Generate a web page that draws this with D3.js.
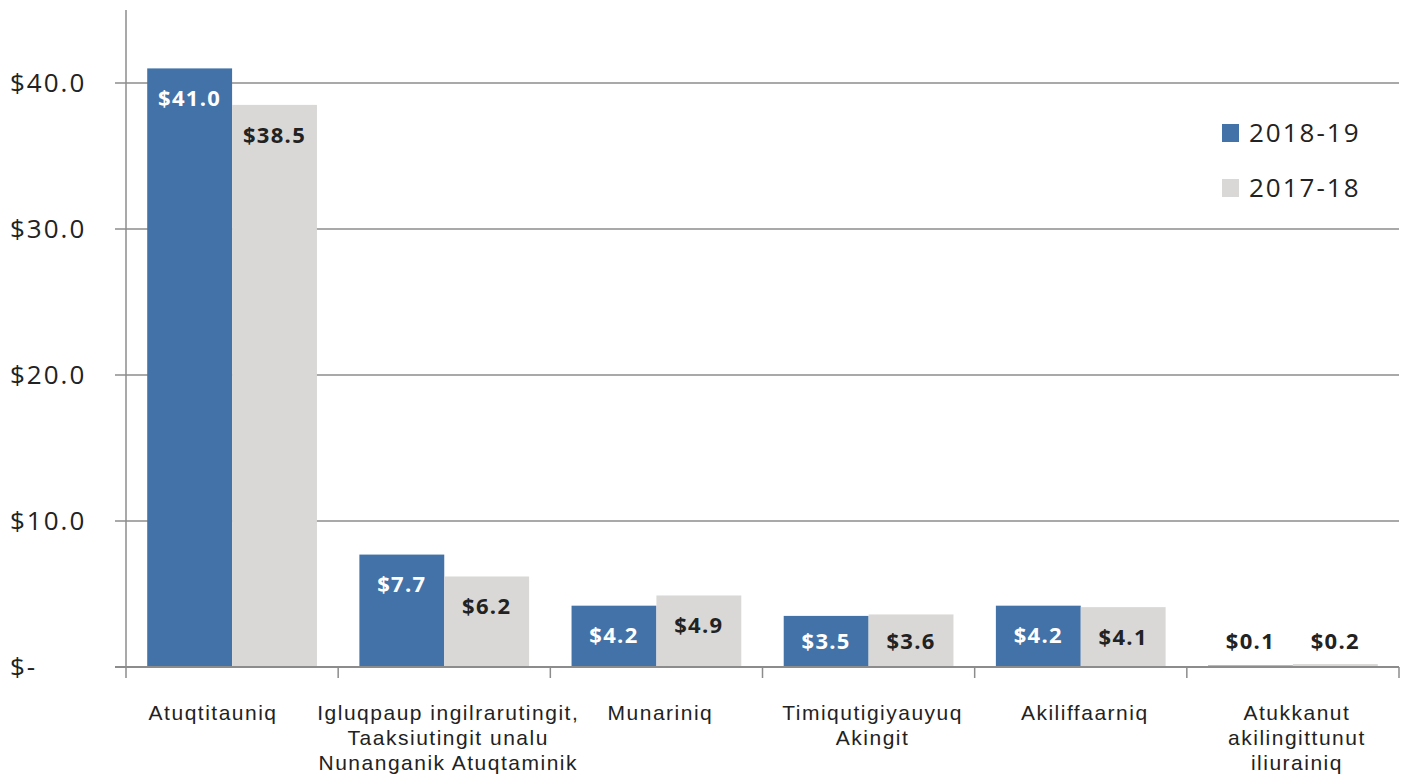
<!DOCTYPE html>
<html>
<head>
<meta charset="utf-8">
<script src="https://cdn.jsdelivr.net/npm/d3@7"></script>
<style>
  body { margin: 0; background: #fff; }
  svg text { font-family: "Open Sans", sans-serif; fill: #222; }
</style>
</head>
<body>
<div id="chart"></div>
<script>
// chart data
var categories = [
	["Atuqtitauniq"],
	["Igluqpaup ingilrarutingit,", "Taaksiutingit unalu", "Nunanganik Atuqtaminik"],
	["Munariniq"],
	["Timiqutigiyauyuq", "Akingit"],
	["Akiliffaarniq"],
	["Atukkanut", "akilingittunut", "iliurainiq"]
];
var series = ["2018-19", "2017-18"];
var values2019 = [41.0, 7.7, 4.2, 3.5, 4.2, 0.1];
var values2018 = [38.5, 6.2, 4.9, 3.6, 4.1, 0.2];
var yTicks = [0, 10, 20, 30, 40];

var colors = {"2018-19": "#4272a7", "2017-18": "#d9d8d6"};

var width = 1406, height = 776;
var margin = {top: 10, right: 7, bottom: 109, left: 126};

var svg = d3.select("#chart")
	.append("svg")
	.attr("width", width)
	.attr("height", height);

var x = d3.scaleBand()
	.domain(d3.range(categories.length))
	.range([margin.left, width - margin.right])
	.paddingInner(0.2)
	.paddingOuter(0.1);

var x1 = d3.scaleBand()
	.domain(series)
	.range([0, x.bandwidth()]);

var y = d3.scaleLinear()
	.domain([0, 45])
	.range([height - margin.bottom, margin.top]);

// gridlines
svg.append("g")
	.selectAll("line")
	.data(yTicks.filter(function(d) { return d > 0; }))
	.enter()
	.append("line")
	.attr("x1", margin.left - 11)
	.attr("x2", width - margin.right)
	.attr("y1", function(d) { return y(d); })
	.attr("y2", function(d) { return y(d); })
	.style("stroke", "#8c8c8c")
	.style("stroke-width", 1.5);

// y tick labels
svg.append("g")
	.selectAll("text")
	.data(yTicks)
	.enter()
	.append("text")
	.attr("x", 10)
	.attr("y", function(d) { return y(d); })
	.attr("dy", "0.35em")
	.style("font-size", "26px")
	.style("letter-spacing", "2px")
	.text(function(d) { return d === 0 ? "$-" : "$" + d.toFixed(1); });

// bars
var rows = categories.map(function(c, i) {
	return {i: i, vals: [
		{s: "2018-19", v: values2019[i]},
		{s: "2017-18", v: values2018[i]}
	]};
});

var groups = svg.append("g")
	.selectAll("g")
	.data(rows)
	.enter()
	.append("g")
	.attr("transform", function(d) { return "translate(" + x(d.i) + ",0)"; });

groups.selectAll("rect")
	.data(function(d) { return d.vals; })
	.enter()
	.append("rect")
	.attr("x", function(d) { return x1(d.s); })
	.attr("width", x1.bandwidth())
	.attr("y", function(d) { return y(d.v); })
	.attr("height", function(d) { return y(0) - y(d.v); })
	.style("fill", function(d) { return colors[d.s]; });

// value labels
groups.selectAll("text")
	.data(function(d) { return d.vals; })
	.enter()
	.append("text")
	.attr("x", function(d) { return x1(d.s) + x1.bandwidth() / 2; })
	.attr("y", function(d) { return Math.min(y(d.v) + 30, y(0) - 26); })
	.attr("dy", "0.35em")
	.attr("text-anchor", "middle")
	.style("font-weight", "bold")
	.style("font-size", "22px")
	.style("letter-spacing", "1.3px")
	.style("fill", function(d) { return d.s === "2018-19" && d.v > 1 ? "#fff" : "#222"; })
	.text(function(d) { return "$" + d.v.toFixed(1); });

// axes lines
svg.append("line")
	.attr("x1", margin.left)
	.attr("x2", margin.left)
	.attr("y1", margin.top)
	.attr("y2", y(0))
	.style("stroke", "#8c8c8c")
	.style("stroke-width", 1.5);

svg.append("line")
	.attr("x1", margin.left - 11)
	.attr("x2", width - margin.right)
	.attr("y1", y(0))
	.attr("y2", y(0))
	.style("stroke", "#8c8c8c")
	.style("stroke-width", 2);

// x tick marks at band edges
var edges = d3.range(categories.length + 1).map(function(i) {
	return margin.left + i * x.step();
});
svg.append("g")
	.selectAll("line")
	.data(edges)
	.enter()
	.append("line")
	.attr("x1", function(d) { return d; })
	.attr("x2", function(d) { return d; })
	.attr("y1", y(0))
	.attr("y2", y(0) + 11)
	.style("stroke", "#8c8c8c")
	.style("stroke-width", 1.5);

// category labels (baseline of first line at 720)
var catText = svg.append("g")
	.selectAll("text")
	.data(categories)
	.enter()
	.append("text")
	.attr("text-anchor", "middle")
	.attr("x", function(d, i) { return x(i) + x.bandwidth() / 2 + (i === 0 ? -19 : 4); })
	.attr("y", 720)
	.style("font-family", "'Liberation Sans', sans-serif")
	.style("font-size", "21px")
	.style("letter-spacing", "1.5px");

catText.selectAll("tspan")
	.data(function(d) { return d; })
	.enter()
	.append("tspan")
	.attr("x", function() { return this.parentNode.getAttribute("x"); })
	.attr("dy", function(d, i) { return i === 0 ? 0 : 25; })
	.text(function(d) { return d; });

// legend
var legend = svg.append("g")
	.selectAll("g")
	.data(series)
	.enter()
	.append("g")
	.attr("transform", function(d, i) { return "translate(1222," + (133 + i * 55) + ")"; });

legend.append("rect")
	.attr("x", 0)
	.attr("y", -9)
	.attr("width", 17)
	.attr("height", 18)
	.style("fill", function(d) { return colors[d]; });

legend.append("text")
	.attr("x", 27)
	.attr("dy", "0.35em")
	.style("font-size", "26px")
	.style("letter-spacing", "2px")
	.text(function(d) { return d; });
</script>
</body>
</html>
